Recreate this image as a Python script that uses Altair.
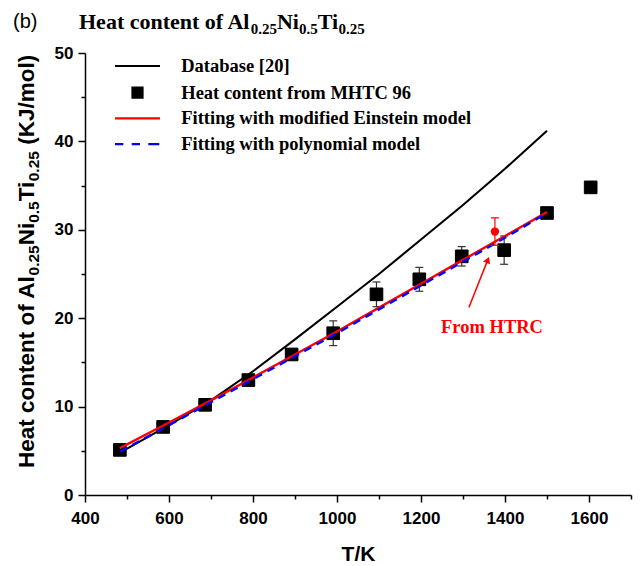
import altair as alt
import pandas as pd

# ---------------- data ----------------
series_names = ["Database [20]", "Heat content from MHTC 96",
                "Fitting with modified Einstein model", "Fitting with polynomial model"]
series_colors = ["#000000", "#000000", "#ff0000", "#0000ff"]

mhtc_T = [483, 586, 686, 789, 892, 991, 1094, 1196, 1297, 1398, 1500, 1604]
mhtc_H = [5.1, 7.7, 10.2, 13.0, 15.9, 18.3, 22.7, 24.4, 27.0, 27.7, 31.9, 34.8]
mhtc_err = [0, 0, 0, 0, 0, 1.4, 1.4, 1.35, 1.1, 1.6, 0, 0]

db_T = [495, 600, 700, 800, 900, 1000, 1100, 1200, 1300, 1400, 1500]
db_H = [5.1, 7.9, 10.7, 14.0, 17.6, 21.3, 25.0, 28.9, 32.8, 36.9, 41.2]

ein_T = [483, 600, 700, 800, 900, 1000, 1100, 1200, 1300, 1400, 1500]
ein_H = [5.3, 8.2, 10.7, 13.3, 15.9, 18.5, 21.2, 23.9, 26.6, 29.3, 32.0]

poly_T = [483, 600, 700, 800, 900, 1000, 1100, 1200, 1300, 1400, 1500]
poly_H = [4.9, 7.9, 10.5, 13.1, 15.7, 18.3, 21.0, 23.7, 26.4, 29.1, 31.9]

htrc_T = [1376]
htrc_H = [29.8]
htrc_err = [1.55]

arrow_T = [1314, 1359]
arrow_H = [21.2, 26.6]
note_T = [1369]
note_H = [19.0]
note_text = ["From HTRC"]

x_major = list(range(400, 1601, 200))
x_minor = list(range(500, 1701, 200))
y_major = list(range(0, 51, 10))
y_minor = list(range(5, 50, 10))

title_parts = [("Heat content of Al", False), ("0.25", True), ("Ni", False),
               ("0.5", True), ("Ti", False), ("0.25", True)]
ytitle_parts = [("Heat content of Al", False), ("0.25", True), ("Ni", False),
                ("0.5", True), ("Ti", False), ("0.25", True), (" ", False), ("(KJ/mol)", False)]

# ---------------- helpers ----------------
SERIF_B = {'H': .778, 'e': .444, 'a': .5, 't': .333, ' ': .25, 'c': .444, 'o': .5, 'n': .556,
           'f': .333, 'A': .722, 'l': .278, '0': .5, '.': .25, '2': .5, '5': .5, 'N': .722,
           'i': .278, 'T': .667}
SANS_B = {'H': .722, 'e': .556, 'a': .556, 't': .333, ' ': .278, 'c': .556, 'o': .611, 'n': .611,
          'f': .333, 'A': .722, 'l': .278, '0': .556, '.': .278, '2': .556, '5': .556, 'N': .722,
          'i': .278, 'T': .611, '(': .333, 'K': .722, 'J': .556, '/': .278, 'm': .889, ')': .333}


def text_width(s, table, size):
    return sum(table.get(ch, 0.55) for ch in s) * size


W, H = 546, 442
x_scale = alt.Scale(domain=[400, 1700], nice=False, zero=False)
y_scale = alt.Scale(domain=[0, 50], nice=False, zero=False)

LINE = "M-4.5,0H4.5"
SQUARE = "M-1,-1H1V1H-1Z"
DASH = "M-4.5,0H-2.84M-1.16,0H0.5M2.16,0H4.36"

stroke_scale = alt.Scale(domain=series_names, range=series_colors)
shape_scale = alt.Scale(domain=series_names, range=[LINE, SQUARE, LINE, DASH])

legend = alt.Legend(title=None, orient="none", legendX=30, legendY=3.75, padding=0,
                    labelFont="Liberation Serif", labelFontWeight="bold", labelFontSize=18.5,
                    labelColor="black", labelLimit=0, symbolSize=100, symbolStrokeWidth=2.2,
                    symbolOffset=13.25, labelOffset=34.5, rowPadding=6.7, direction="vertical")

common_axis = dict(labelFont="Liberation Sans", labelFontWeight="bold", labelFontSize=17,
                   labelColor="black", labelFlush=False, labelOverlap=False,
                   domainColor="black", domainWidth=1.5, tickColor="black", tickWidth=1.5,
                   grid=False)

x_axis = alt.Axis(values=x_major, format="d", orient="bottom", tickSize=7, labelPadding=8,
                  title="T/K", titleFont="Liberation Sans", titleFontSize=21,
                  titleFontWeight="bold", titleColor="black", titlePadding=17, **common_axis)
y_axis = alt.Axis(values=y_major, format="d", orient="left", tickSize=7, labelPadding=5,
                  title=None, **common_axis)
x_axis_minor = alt.Axis(values=x_minor, orient="bottom", tickSize=4, labels=False, title=None,
                        domain=False, tickColor="black", tickWidth=1.5, grid=False)
y_axis_minor = alt.Axis(values=y_minor, orient="left", tickSize=4, labels=False, title=None,
                        domain=False, tickColor="black", tickWidth=1.5, grid=False)

# ---------------- frames ----------------
df_mhtc = pd.DataFrame({"T": mhtc_T, "H": mhtc_H, "err": mhtc_err,
                        "series": series_names[1]})
df_err = df_mhtc[df_mhtc["err"] > 0].copy()
df_err["lo"] = df_err["H"] - df_err["err"]
df_err["hi"] = df_err["H"] + df_err["err"]
df_db = pd.DataFrame({"T": db_T, "H": db_H, "series": series_names[0]})
df_ein = pd.DataFrame({"T": ein_T, "H": ein_H, "series": series_names[2]})
df_poly = pd.DataFrame({"T": poly_T, "H": poly_H, "series": series_names[3]})
df_htrc = pd.DataFrame({"T": htrc_T, "H": htrc_H, "err": htrc_err})
df_htrc["lo"] = df_htrc["H"] - df_htrc["err"]
df_htrc["hi"] = df_htrc["H"] + df_htrc["err"]
df_arrow = pd.DataFrame({"T": arrow_T, "H": arrow_H})
df_note = pd.DataFrame({"T": note_T, "H": note_H, "t": note_text})

X = alt.X("T:Q", scale=x_scale, axis=None)
Y = alt.Y("H:Q", scale=y_scale, axis=None)

# error bars (carry the major axes)
err_rule = alt.Chart(df_err).mark_rule(color="#333333", strokeWidth=1.2).encode(
    x=alt.X("T:Q", scale=x_scale, axis=x_axis),
    y=alt.Y("lo:Q", scale=y_scale, axis=y_axis), y2="hi:Q")
# caps (carry the minor axes)
err_caps = alt.Chart(df_err).transform_fold(["lo", "hi"], as_=["k", "v"]).mark_tick(
    color="#333333", thickness=1.2, size=8, orient="horizontal", opacity=1).encode(
    x=alt.X("T:Q", scale=x_scale, axis=x_axis_minor),
    y=alt.Y("v:Q", scale=y_scale, axis=y_axis_minor))

squares = alt.Chart(df_mhtc).mark_point(filled=True, size=160, opacity=1, strokeWidth=1).encode(
    x=X, y=Y,
    fill=alt.Fill("series:N", scale=stroke_scale, legend=legend),
    stroke=alt.Stroke("series:N", scale=stroke_scale, legend=legend),
    shape=alt.Shape("series:N", scale=shape_scale, legend=legend))

line_db = alt.Chart(df_db).mark_line(strokeWidth=2.1).encode(
    x=X, y=Y, stroke=alt.Stroke("series:N", scale=stroke_scale, legend=None))
line_ein = alt.Chart(df_ein).mark_line(strokeWidth=2.4).encode(
    x=X, y=Y, stroke=alt.Stroke("series:N", scale=stroke_scale, legend=None))
line_poly = alt.Chart(df_poly).mark_line(strokeWidth=2.4, strokeDash=[8, 6]).encode(
    x=X, y=Y, stroke=alt.Stroke("series:N", scale=stroke_scale, legend=None))

htrc_rule = alt.Chart(df_htrc).mark_rule(color="#ff0000", strokeWidth=1.2).encode(
    x=X, y=alt.Y("lo:Q", scale=y_scale, axis=None), y2="hi:Q")
htrc_caps = alt.Chart(df_htrc).transform_fold(["lo", "hi"], as_=["k", "v"]).mark_tick(
    color="#ff0000", thickness=1.2, size=8, orient="horizontal", opacity=1).encode(
    x=X, y=alt.Y("v:Q", scale=y_scale, axis=None))
htrc_pt = alt.Chart(df_htrc).mark_point(filled=True, shape="circle", size=70, color="#ff0000",
                                        opacity=1).encode(x=X, y=Y)

arrow_line = alt.Chart(df_arrow).mark_line(color="#ff0000", strokeWidth=1.5).encode(x=X, y=Y)
arrow_head = alt.Chart(df_arrow.tail(1)).mark_point(
    shape="triangle-up", filled=True, size=55, angle=22, color="#ff0000", opacity=1).encode(x=X, y=Y)
note = alt.Chart(df_note).mark_text(font="Liberation Serif", fontWeight="bold", fontSize=18.5,
                                    color="#ff0000", align="center", baseline="middle").encode(
    x=X, y=Y, text="t:N")

# ---------------- titles with subscripts ----------------
text_layers = []
tb = alt.Chart(pd.DataFrame({"t": ["(b)"]})).mark_text(
    font="Liberation Sans", fontSize=20, color="black", align="left", baseline="alphabetic").encode(
    x=alt.value(-72), y=alt.value(-25), text="t:N")
text_layers.append(tb)

off = 0.0
for s, sub in title_parts:
    size = 15 if sub else 22
    if s.strip():
        text_layers.append(alt.Chart(pd.DataFrame({"t": [s]})).mark_text(
            font="Liberation Serif", fontWeight="bold", fontSize=size, color="black",
            align="left", baseline="alphabetic", dx=off, dy=5 if sub else 0).encode(
            x=alt.value(-6), y=alt.value(-24), text="t:N"))
    off += text_width(s, SERIF_B, size)

off = 0.0
for s, sub in ytitle_parts:
    size = 15.5 if sub else 22.5
    if s.strip():
        text_layers.append(alt.Chart(pd.DataFrame({"t": [s]})).mark_text(
            font="Liberation Sans", fontWeight="bold", fontSize=size, color="black",
            align="left", baseline="alphabetic", angle=270, dx=off, dy=5 if sub else 0).encode(
            x=alt.value(-51), y=alt.value(415), text="t:N"))
    off += text_width(s, SANS_B, size)

chart = alt.layer(
    err_rule, err_caps, squares, line_db, line_ein, line_poly,
    htrc_rule, htrc_caps, htrc_pt, arrow_line, arrow_head, note, *text_layers
).resolve_axis(x="independent", y="independent").properties(
    width=W, height=H,
    autosize=alt.AutoSizeParams(type="none"),
    padding={"left": 85, "top": 53, "right": 9, "bottom": 71},
    background="white"
).configure_view(stroke=None)

chart.save("out.html", embed_options={"renderer": "svg", "actions": False})
